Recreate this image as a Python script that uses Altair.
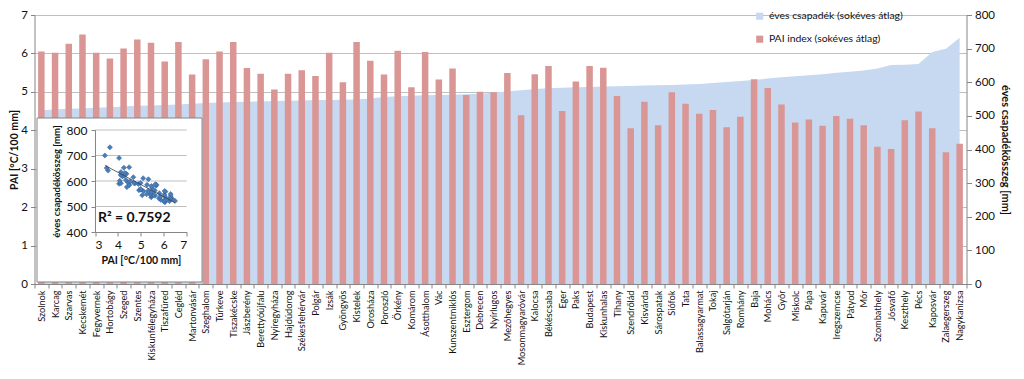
import altair as alt
import pandas as pd

cities = [
    "Szolnok", "Karcag", "Szarvas", "Kecskemét", "Fegyvernek", "Hortobágy", "Szeged", "Szentes",
    "Kiskunfélegyháza", "Tiszafüred", "Cegléd", "Martonvásár", "Szeghalom", "Túrkeve", "Tiszakécske",
    "Jászberény", "Berettyóújfalu", "Nyíregyháza", "Hajdúdorog", "Székesfehérvár", "Polgár", "Izsák",
    "Gyöngyös", "Kistelek", "Orosháza", "Poroszló", "Örkény", "Komárom", "Ásotthalom", "Vác",
    "Kunszentmiklós", "Esztergom", "Debrecen", "Nyírlugos", "Mezőhegyes", "Mosonmagyaróvár", "Kalocsa",
    "Békéscsaba", "Eger", "Paks", "Budapest", "Kiskunhalas", "Tihany", "Szendrőlád", "Kisvárda",
    "Sárospatak", "Siófok", "Tata", "Balassagyarmat", "Tokaj", "Salgótarján", "Romhány", "Baja",
    "Mohács", "Győr", "Miskolc", "Pápa", "Kapuvár", "Iregszemcse", "Pátyod", "Mór", "Szombathely",
    "Jósvafő", "Keszthely", "Pécs", "Kaposvár", "Zalaegerszeg", "Nagykanizsa",
]
pai_index = [
    6.05, 6.02, 6.25, 6.49, 6.02, 5.87, 6.13, 6.36, 6.28, 5.79, 6.30, 5.45, 5.85, 6.05, 6.30,
    5.62, 5.47, 5.06, 5.47, 5.56, 5.41, 6.02, 5.25, 6.30, 5.81, 5.45, 6.07, 5.12, 6.04, 5.32,
    5.61, 4.92, 5.00, 4.99, 5.49, 4.39, 5.46, 5.67, 4.50, 5.27, 5.67, 5.63, 4.89, 4.05, 4.74,
    4.13, 4.99, 4.69, 4.43, 4.53, 4.08, 4.35, 5.33, 5.10, 4.67, 4.20, 4.28, 4.12, 4.37, 4.30,
    4.13, 3.57, 3.51, 4.26, 4.49, 4.05, 3.43, 3.65,
]
precipitation = [
    517, 519, 521, 522, 524, 526, 528, 530, 531, 532, 534, 536, 538, 540, 541, 542, 543, 544,
    545, 546, 547, 547, 548, 549, 552, 556, 558, 560, 561, 562, 563, 564, 566, 569, 573, 576,
    580, 582, 584, 585, 586, 587, 588, 589, 590, 591, 592, 593, 595, 598, 601, 604, 607, 611,
    615, 618, 621, 624, 628, 631, 635, 641, 651, 652, 654, 690, 700, 732,
]
left_ticks = [0, 1, 2, 3, 4, 5, 6, 7]
right_ticks = [0, 100, 200, 300, 400, 500, 600, 700, 800]
inset_x_ticks = [3, 4, 5, 6, 7]
inset_y_ticks = [400, 500, 600, 700, 800]
inset_grid = [500, 600, 700, 800]
legend_labels = ["éves csapadék (sokéves átlag)", "PAI index (sokéves átlag)"]
r2_label = ["R² = 0.7592"]

df = pd.DataFrame({"city": cities, "pai": pai_index, "precip": precipitation})
df_area = df.assign(series=legend_labels[0])
df_bar = df.assign(series=legend_labels[1])

FONT = "Lato"
AX = "#868686"
TXT = "#111111"
W, H = 932, 269

color_scale = alt.Scale(domain=legend_labels, range=["#C6D9F1", "#D99694"])
legend = alt.Legend(
    title=None, orient="none", legendX=720, legendY=-4, symbolType="square",
    symbolSize=50, symbolStrokeWidth=0, labelFont=FONT, labelFontSize=10.4,
    labelColor=TXT, rowPadding=12, labelOffset=4, labelLimit=300,
)
city_scale = alt.Scale(type="band", paddingInner=0, paddingOuter=0)
x_axis = alt.Axis(
    title=None, labelAngle=-90, labelFont=FONT, labelFontSize=9.2, labelColor=TXT,
    tickBand="extent", tickSize=4, tickColor=AX, domainColor=AX, labelPadding=2,
    labelLimit=300, labelOverlap=False,
)

area = alt.Chart(df_area).mark_area(opacity=1).encode(
    x=alt.X("city:N", sort=cities, scale=city_scale, axis=x_axis, bandPosition=0.5),
    y=alt.Y(
        "precip:Q", scale=alt.Scale(domain=[0, 800], nice=False),
        axis=alt.Axis(
            orient="right", values=right_ticks, grid=False, title="éves csapadékösszeg [mm]",
            labelFont=FONT, labelFontSize=11.5, labelColor=TXT, tickSize=5, tickColor=AX,
            domainColor=AX, labelPadding=3, titleFont=FONT, titleFontSize=11,
            titleFontWeight="bold", titleColor=TXT, titlePadding=5,
        ),
    ),
    color=alt.Color("series:N", scale=color_scale, legend=legend),
)

bars = alt.Chart(df_bar).mark_bar(size=6.5).encode(
    x=alt.X("city:N", sort=cities, scale=city_scale, axis=x_axis),
    y=alt.Y(
        "pai:Q", scale=alt.Scale(domain=[0, 7], nice=False),
        axis=alt.Axis(
            orient="left", values=left_ticks, grid=True, gridColor="#BFBFBF",
            title="PAI [°C/100 mm]", labelFont=FONT, labelFontSize=11.5, labelColor=TXT,
            tickSize=4, tickColor=AX, domainColor=AX, labelPadding=3, titleFont=FONT,
            titleFontSize=10.5, titleFontWeight="bold", titleColor=TXT, titlePadding=1,
        ),
    ),
    color=alt.Color("series:N", scale=color_scale, legend=legend),
)

main = alt.layer(area, bars).resolve_scale(y="independent")

# Inset scatter
sx = alt.Scale(domain=[3, 7], range=[60.5, 152.2], nice=False, zero=False)
sy = alt.Scale(domain=[400, 800], range=[217, 115], nice=False, zero=False)
ix_axis = alt.Axis(
    orient="bottom", offset=-52, values=inset_x_ticks, grid=False, title="PAI [°C/100 mm]",
    labelFont=FONT, labelFontSize=12, labelColor=TXT, tickSize=4, tickColor=AX,
    domainColor=AX, labelPadding=3, titleFont=FONT, titleFontSize=10.5,
    titleFontWeight="bold", titleColor=TXT, titlePadding=5, zindex=2,
)
iy_axis = alt.Axis(
    orient="left", offset=-60.5, values=inset_y_ticks, grid=False,
    title="éves csapadékösszeg [mm]", labelFont=FONT, labelFontSize=12, labelColor=TXT,
    tickSize=4, tickColor=AX, domainColor=AX, labelPadding=4, titleFont=FONT,
    titleFontSize=9.5, titleFontWeight="bold", titleColor=TXT, titlePadding=5, zindex=2,
)

one = pd.DataFrame({"t": r2_label})
box = alt.Chart(one).mark_rect(fill="white", stroke=AX, strokeWidth=1).encode(
    x=alt.XDatum(0.47, type="quantitative", scale=sx, axis=ix_axis),
    x2=alt.X2Datum(7.67),
    y=alt.YDatum(847, type="quantitative", scale=sy, axis=iy_axis),
    y2=alt.Y2Datum(204),
)
grid = alt.Chart(pd.DataFrame({"g": inset_grid})).mark_rule(color="#BFBFBF", strokeWidth=1).encode(
    x=alt.XDatum(3, type="quantitative", scale=sx, axis=ix_axis),
    x2=alt.X2Datum(7),
    y=alt.Y("g:Q", scale=sy, axis=iy_axis),
)
points = alt.Chart(df).mark_point(
    shape="diamond", filled=True, size=26, fill="#4A7EBB", stroke="#2E5C96",
    strokeWidth=0.5, opacity=1,
).encode(
    x=alt.X("pai:Q", scale=sx, axis=ix_axis),
    y=alt.Y("precip:Q", scale=sy, axis=iy_axis),
)
trend = alt.Chart(df).transform_regression("pai", "precip").mark_line(
    color="#404040", strokeWidth=0.8
).encode(
    x=alt.X("pai:Q", scale=sx, axis=ix_axis),
    y=alt.Y("precip:Q", scale=sy, axis=iy_axis),
)
r2 = alt.Chart(one).mark_text(
    align="left", baseline="middle", font=FONT, fontSize=14, fontWeight="bold", color=TXT
).encode(
    x=alt.XDatum(3.13, type="quantitative", scale=sx, axis=ix_axis),
    y=alt.YDatum(455, type="quantitative", scale=sy, axis=iy_axis),
    text=alt.Text("t:N"),
)

inset = alt.layer(box, grid, points, trend, r2)

chart = (
    alt.layer(main, inset)
    .resolve_scale(x="independent", y="independent")
    .properties(
        width=W, height=H,
        autosize=alt.AutoSizeParams(type="none"),
        padding={"left": 26.5, "top": 7, "right": 49, "bottom": 86},
        background="white",
    )
    .configure_view(stroke=None)
)

chart.save("out.html", embed_options={"renderer": "svg", "actions": False})
